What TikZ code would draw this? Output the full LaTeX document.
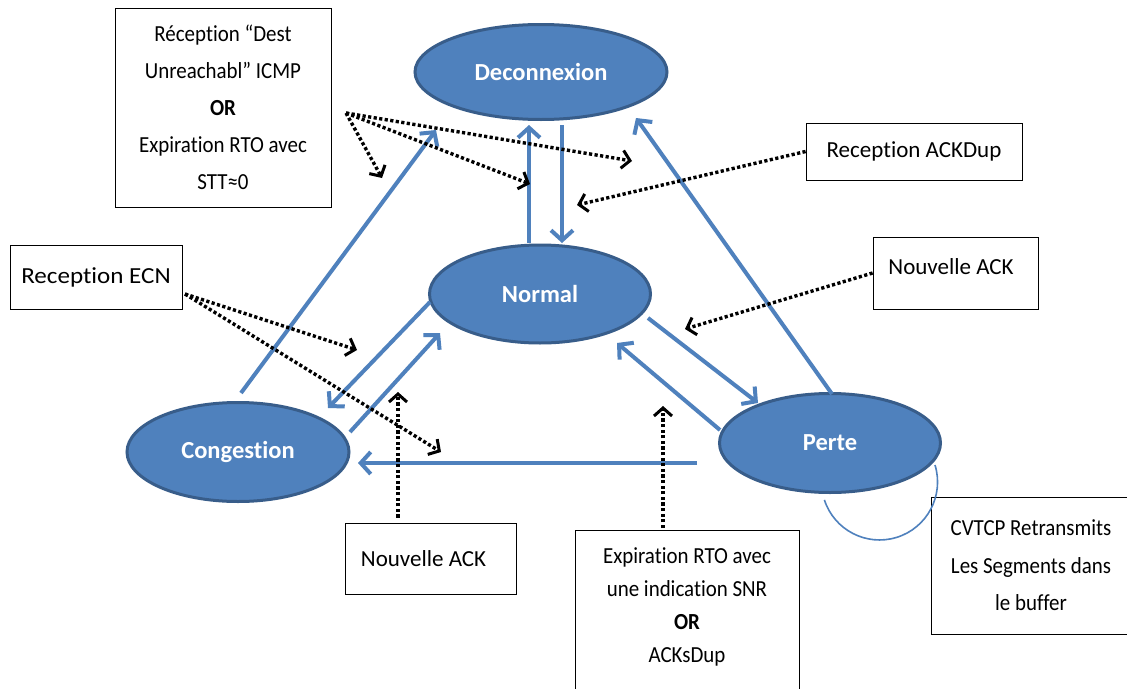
\documentclass[tikz,border=0pt]{standalone}
\usepackage{fontspec}
\setmainfont{Carlito}[Ligatures=NoCommon]
\newfontfamily\condfont{Carlito}[FakeStretch=0.91, Ligatures=NoCommon]
\newfontfamily\widefont{Carlito}[FakeStretch=1.09, Ligatures=NoCommon]
\usetikzlibrary{shapes.geometric,arrows.meta}
\definecolor{stateblue}{HTML}{4F81BD}
\definecolor{stateedge}{HTML}{385D8A}
\begin{document}
\begin{tikzpicture}[x=1pt,y=-1pt,
  state/.style={ellipse, draw=stateedge, fill=stateblue, line width=3pt,
    inner sep=0pt, text=white, font=\fontsize{24.5}{28}\selectfont\bfseries},
  note/.style={draw, line width=0.8pt, align=center, inner sep=0pt,
    font=\fontsize{23}{37}\selectfont},
  flow/.style={draw=stateblue, line width=4pt,
    -{Straight Barb[length=10pt,width=22pt]}},
  trigger/.style={draw=black, line width=3.4pt, dash pattern=on 3.2pt off 2.4pt,
    -{Straight Barb[length=8pt,width=18pt,line width=3pt]}},
  selfloop/.style={draw=stateblue, line width=1.6pt},
]
\useasboundingbox (0,0) rectangle (1127,688);
\fill[white] (0,0) rectangle (1127,688);

% states
\node[state, minimum width=252, minimum height=95] (dec) at (541,72) {Deconnexion};
\node[state, minimum width=221, minimum height=98] (nor) at (540,294) {Normal};
\node[state, minimum width=222, minimum height=99] (con) at (238,452) {Congestion};
\node[state, minimum width=221, minimum height=99] (per) at (830,443) {Perte};

% event boxes
\node[note, minimum width=216, minimum height=199, font=\condfont\fontsize{23}{37}\selectfont] (unreach) at (223,107.5)
  {\raisebox{-6pt}{\parbox{200pt}{\centering Réception “Dest\\ Unreachabl” ICMP\\ \textbf{OR}\\ Expiration RTO avec\\ STT≈0}}};
\node[note, minimum width=216, minimum height=57] (ackdup) at (914,151.5) {Reception ACKDup};
\node[note, minimum width=172, minimum height=64, font=\widefont\fontsize{23}{37}\selectfont] (ecn) at (96,277) {Reception ECN};
\node[note, minimum width=165, minimum height=72] (newackr) at (955.5,273) {\raisebox{12pt}{Nouvelle ACK}\hspace*{9pt}};
\node[note, minimum width=171, minimum height=71] (newackb) at (430.5,558.5) {Nouvelle ACK\hspace*{14pt}};
\node[note, minimum width=224, anchor=north, inner ysep=17pt, text depth=120pt,
  font=\condfont\fontsize{23}{33}\selectfont] (rto) at (687,530)
  {Expiration RTO avec\\ une indication SNR\\ \textbf{OR}\\ ACKsDup};
\node[note, minimum width=200, minimum height=137, font=\condfont\fontsize{23}{37.5}\selectfont] (buf) at (1031,565.5)
  {\raisebox{8pt}{\parbox{190pt}{\centering CVTCP Retransmits\\ Les Segments dans\\ le buffer}}};

% connector end points
\coordinate (conA) at (241,393);  \coordinate (decA) at (436,130);
\coordinate (norB) at (529,243);  \coordinate (decB) at (529,125);
\coordinate (decC) at (562,125);  \coordinate (norC) at (562,243);
\coordinate (perD) at (832,394);  \coordinate (decD) at (636,118);
\coordinate (norE) at (430,302);  \coordinate (conE) at (328,408);
\coordinate (conF) at (350,432);  \coordinate (norF) at (440,333);
\coordinate (norG) at (648,318);  \coordinate (perG) at (758,403);
\coordinate (perH) at (720,430);  \coordinate (norH) at (617,343);
\coordinate (perI) at (697,463);  \coordinate (conI) at (358,463);

% transitions
\draw[flow] (conA) -- (decA);
\draw[flow] (norB) -- (decB);
\draw[flow] (decC) -- (norC);
\draw[flow] (perD) -- (decD);
\draw[flow] (norE) -- (conE);
\draw[flow] (conF) -- (norF);
\draw[flow] (norG) -- (perG);
\draw[flow] (perH) -- (norH);
\draw[flow] (perI) -- (conI);

% self loop on Perte
\coordinate (loopS) at (935,465);
\draw[selfloop] (loopS) arc[start angle=-17, end angle=162, radius=58];

% trigger pointers
\coordinate (unreachO) at (346,113);
\coordinate (ecnO) at (185,294);
\coordinate (tA) at (382,178);
\coordinate (tB) at (530,184);
\coordinate (tC) at (632,161);
\coordinate (tD) at (577,205);
\coordinate (tE) at (357,350);
\coordinate (tF) at (441,452);
\coordinate (tG) at (685,329);
\coordinate (tH) at (398,392);
\coordinate (tI) at (663,406);
\draw[trigger] (unreachO) -- (tA);
\draw[trigger] (unreachO) -- (tB);
\draw[trigger] (unreachO) -- (tC);
\draw[trigger] (ackdup.west) -- (tD);
\draw[trigger] (ecnO) -- (tE);
\draw[trigger] (ecnO) -- (tF);
\draw[trigger] (newackr.west) -- (tG);
\draw[trigger] (newackb.north -| tH) ++(0,-5) -- (tH);
\draw[trigger] (rto.north -| tI) ++(0,-2) -- (tI);
\end{tikzpicture}
\end{document}
